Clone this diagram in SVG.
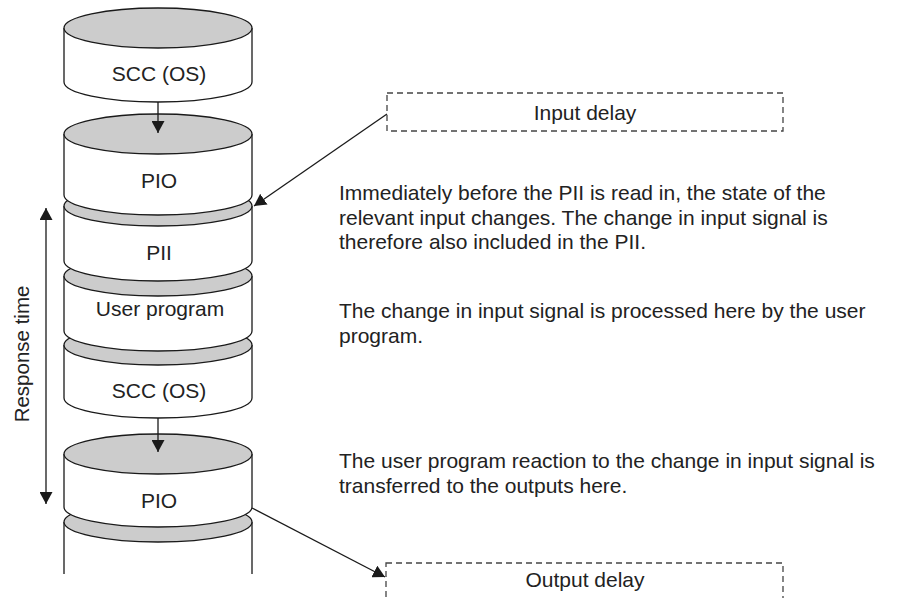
<svg xmlns="http://www.w3.org/2000/svg" width="897" height="598" viewBox="0 0 897 598">
<style>
  .body{fill:#fff;stroke:#1a1a1a;stroke-width:1.3}
  .top{fill:#cccccc;stroke:#1a1a1a;stroke-width:1.3}
  .side{fill:none;stroke:#1a1a1a;stroke-width:1.3}
  .lbl{font-family:"Liberation Sans",Arial,sans-serif;font-size:21px;fill:#222;text-anchor:middle}
  .txt{font-family:"Liberation Sans",Arial,sans-serif;font-size:21px;fill:#222}
  .conn{fill:none;stroke:#1a1a1a;stroke-width:1.3}
  .dash{fill:#fff;stroke:#444;stroke-width:1.3;stroke-dasharray:6 4}
</style>
<defs>
  <marker id="arr" markerUnits="userSpaceOnUse" markerWidth="13" markerHeight="13" refX="12" refY="6.5" orient="auto-start-reverse" viewBox="0 0 13 13">
    <path d="M0,0 L12,6.5 L0,13 Z" fill="#1a1a1a"/>
  </marker>
</defs>

<g id="cyl-bottom">
  <path class="side" d="M64,522 V574 M252,522 V574"/>
  <ellipse class="top" cx="158" cy="522" rx="94" ry="20"/>
</g>
<g id="pio-2">
  <path class="body" d="M64,454 L64,507 A94,20 0 0 0 252,507 L252,454"/>
  <ellipse class="top" cx="158" cy="454" rx="94" ry="20"/>
  <text class="lbl" x="159" y="507.5">PIO</text>
</g>
<g id="scc-2">
  <path class="body" d="M64,345 L64,398 A94,20 0 0 0 252,398 L252,345"/>
  <ellipse class="top" cx="158" cy="345" rx="94" ry="20"/>
  <text class="lbl" x="159" y="398">SCC (OS)</text>
</g>
<g id="user-program">
  <path class="body" d="M64,276 L64,331 A94,20 0 0 0 252,331 L252,276"/>
  <ellipse class="top" cx="158" cy="276" rx="94" ry="20"/>
  <text class="lbl" x="160" y="315.5">User program</text>
</g>
<g id="pii">
  <path class="body" d="M64,206 L64,261 A94,20 0 0 0 252,261 L252,206"/>
  <ellipse class="top" cx="158" cy="206" rx="94" ry="20"/>
  <text class="lbl" x="159" y="259.5">PII</text>
</g>
<g id="pio-1">
  <path class="body" d="M64,134 L64,195 A94,20 0 0 0 252,195 L252,134"/>
  <ellipse class="top" cx="158" cy="134" rx="94" ry="20"/>
  <text class="lbl" x="159" y="187.5">PIO</text>
</g>
<g id="scc-1">
  <path class="body" d="M64,28 L64,82 A94,20 0 0 0 252,82 L252,28"/>
  <ellipse class="top" cx="158" cy="28" rx="94" ry="20"/>
  <text class="lbl" x="159" y="80.5">SCC (OS)</text>
</g>

<g id="input-delay">
  <rect class="dash" x="387" y="93" width="396" height="38"/>
  <text class="lbl" x="585" y="119.5">Input delay</text>
</g>
<g id="output-delay">
  <rect class="dash" x="386" y="563" width="397" height="60"/>
  <text class="lbl" x="585" y="586.5">Output delay</text>
</g>

<g id="connectors">
  <line class="conn" x1="158" y1="102" x2="158" y2="133" marker-end="url(#arr)"/>
  <line class="conn" x1="158" y1="418" x2="158" y2="452" marker-end="url(#arr)"/>
  <line class="conn" x1="387" y1="114" x2="254" y2="206" marker-end="url(#arr)"/>
  <line class="conn" x1="252" y1="508" x2="385" y2="577" marker-end="url(#arr)"/>
  <line class="conn" x1="46" y1="208" x2="46" y2="504" marker-start="url(#arr)" marker-end="url(#arr)"/>
</g>

<g id="response-time">
  <text class="lbl" style="font-size:20.5px" transform="translate(29,354) rotate(-90)" x="0" y="0">Response time</text>
</g>

<g id="notes">
  <text class="txt" x="339" y="200">Immediately before the PII is read in, the state of the</text>
  <text class="txt" x="339" y="224.5">relevant input changes. The change in input signal is</text>
  <text class="txt" x="339" y="249">therefore also included in the PII.</text>
  <text class="txt" x="339" y="318">The change in input signal is processed here by the user</text>
  <text class="txt" x="339" y="342.5">program.</text>
  <text class="txt" x="339" y="468">The user program reaction to the change in input signal is</text>
  <text class="txt" x="339" y="492.5">transferred to the outputs here.</text>
</g>
</svg>
